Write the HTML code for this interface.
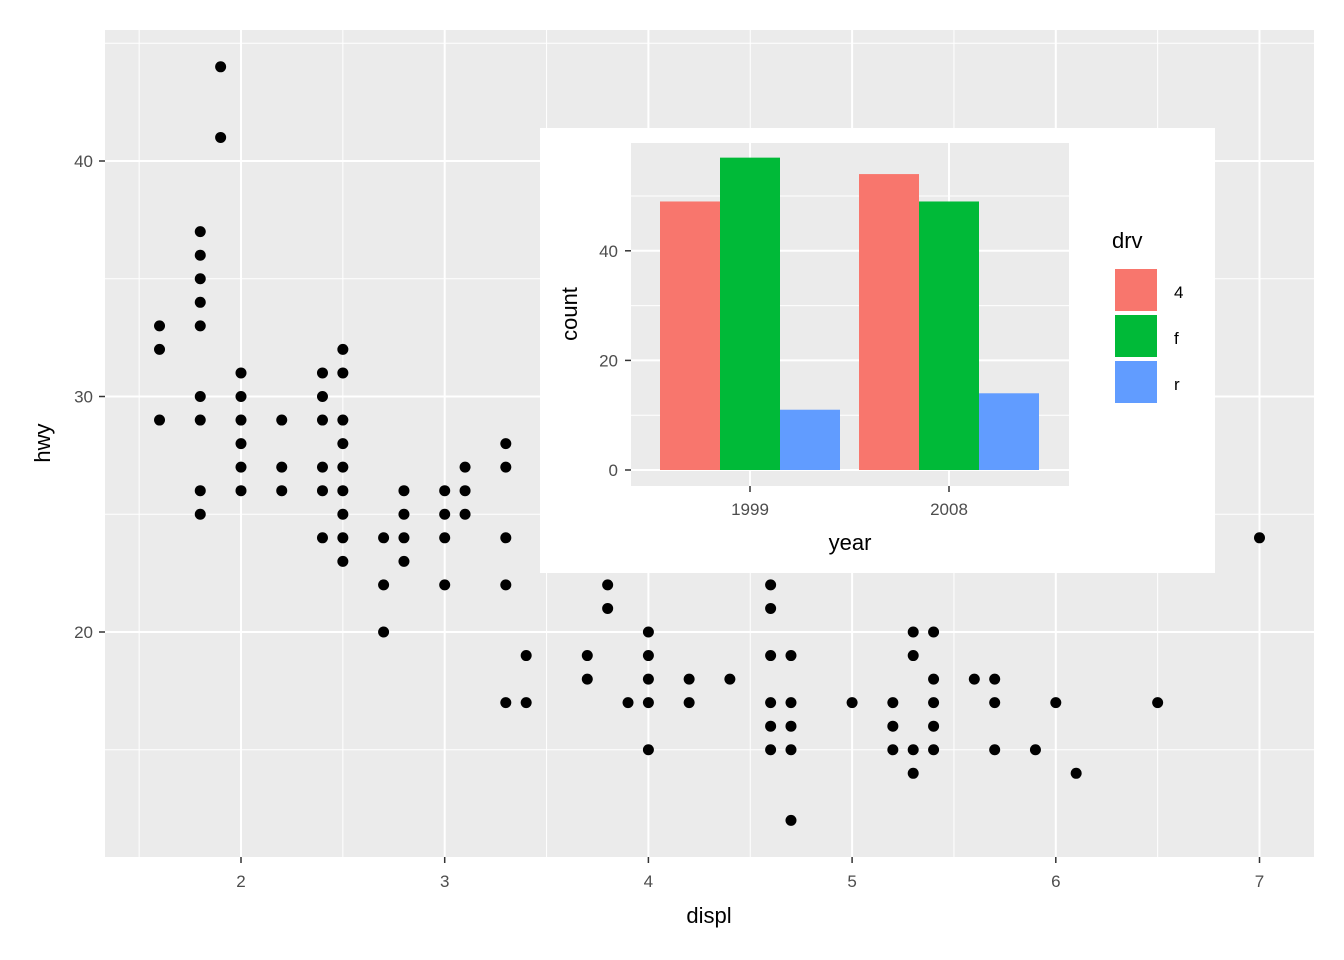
<!DOCTYPE html>
<html><head><meta charset="utf-8"><style>
body{margin:0;background:#fff;}
svg{display:block;font-family:"Liberation Sans",Arial,sans-serif;}
</style></head><body>
<svg id="chart" width="1344" height="960"></svg>
<script>
const displVals=[1.6,1.6,1.6,1.8,1.8,1.8,1.8,1.8,1.8,1.8,1.8,1.8,1.9,1.9,2.0,2.0,2.0,2.0,2.0,2.0,2.2,2.2,2.2,2.4,2.4,2.4,2.4,2.4,2.4,2.5,2.5,2.5,2.5,2.5,2.5,2.5,2.5,2.5,2.7,2.7,2.7,2.8,2.8,2.8,2.8,3.0,3.0,3.0,3.0,3.1,3.1,3.1,3.3,3.3,3.3,3.3,3.3,3.4,3.4,3.5,3.5,3.5,3.5,3.7,3.7,3.8,3.8,3.9,4.0,4.0,4.0,4.0,4.0,4.2,4.2,4.4,4.6,4.6,4.6,4.6,4.6,4.6,4.7,4.7,4.7,4.7,4.7,5.0,5.2,5.2,5.2,5.3,5.3,5.3,5.3,5.4,5.4,5.4,5.4,5.4,5.6,5.7,5.7,5.7,5.9,6.0,6.1,6.5,7.0];
const hwyVals=[33,32,29,37,36,35,34,33,30,29,26,25,44,41,31,30,29,28,27,26,29,27,26,31,30,29,27,26,24,32,31,29,28,27,26,25,24,23,24,22,20,26,25,24,23,26,25,24,22,27,26,25,28,27,24,22,17,19,17,29,27,26,25,19,18,22,21,17,20,19,18,17,15,18,17,18,22,21,19,17,16,15,19,17,16,15,12,17,17,16,15,20,19,15,14,20,18,17,16,15,18,18,17,15,15,17,14,17,24];
const xTicks=[2,3,4,5,6,7];
const yTicks=[20,30,40];
const years=["1999","2008"];
const drvs=["4","f","r"];
const counts1999=[49,57,11];
const counts2008=[54,49,14];
const colors=["#F8766D","#00BA38","#619CFF"];

const svg=document.getElementById('chart');
const NS="http://www.w3.org/2000/svg";
function el(tag,attrs,parent,text){const e=document.createElementNS(NS,tag);for(const k in attrs)e.setAttribute(k,attrs[k]);if(text!==undefined)e.textContent=text;(parent||svg).appendChild(e);return e;}
const X=v=>241+(v-2)*203.7;
const Y=v=>396.5-(v-30)*23.55;

// main panel
const panel=el('rect',{x:105,y:30,width:1209,height:827,fill:'#EBEBEB'});

const grid=el('g',{});

for(let v=1.5;v<=6.6;v+=1)el('line',{x1:X(v),x2:X(v),y1:30,y2:857,stroke:'#fff','stroke-width':1},grid);
for(const v of [15,25,35,45])el('line',{x1:105,x2:1314,y1:Y(v),y2:Y(v),stroke:'#fff','stroke-width':1},grid);
for(const v of xTicks)el('line',{x1:X(v),x2:X(v),y1:30,y2:857,stroke:'#fff','stroke-width':2},grid);
for(const v of yTicks)el('line',{x1:105,x2:1314,y1:Y(v),y2:Y(v),stroke:'#fff','stroke-width':2},grid);
const xax=el('g',{});
for(const v of xTicks){el('line',{x1:X(v),x2:X(v),y1:857,y2:863,stroke:'#333','stroke-width':1.5},xax);el('text',{x:X(v),y:887,'text-anchor':'middle','font-size':17,fill:'#4D4D4D'},xax,v);}
const yax=el('g',{});
for(const v of yTicks){el('line',{x1:99,x2:105,y1:Y(v),y2:Y(v),stroke:'#333','stroke-width':1.5},yax);el('text',{x:93,y:Y(v)+6,'text-anchor':'end','font-size':17,fill:'#4D4D4D'},yax,v);}
const xt=el('text',{x:709,y:923,'text-anchor':'middle','font-size':22,fill:'#000'},svg,'displ');

const yt=el('text',{x:0,y:0,transform:'translate(50,443) rotate(-90)','text-anchor':'middle','font-size':22,fill:'#000'},svg,'hwy');

const pts=el('g',{});
displVals.forEach((d,i)=>{const c=el('circle',{cx:X(d),cy:Y(hwyVals[i]),r:5.5,fill:'#000'},pts);

});

// inset
const inset=el('g',{});
el('rect',{x:540,y:128,width:675,height:445,fill:'#fff'},inset);
el('rect',{x:631,y:143,width:438,height:343,fill:'#EBEBEB'},inset);
const IY=v=>470-v*5.48;
for(const v of [10,30,50])el('line',{x1:631,x2:1069,y1:IY(v),y2:IY(v),stroke:'#fff','stroke-width':1},inset);
for(const v of [0,20,40]){el('line',{x1:631,x2:1069,y1:IY(v),y2:IY(v),stroke:'#fff','stroke-width':2},inset);
el('line',{x1:625,x2:631,y1:IY(v),y2:IY(v),stroke:'#333','stroke-width':1.5},inset);
el('text',{x:618,y:IY(v)+6,'text-anchor':'end','font-size':17,fill:'#4D4D4D'},inset,v);}
const centers=[750,949];
centers.forEach(c=>el('line',{x1:c,x2:c,y1:143,y2:486,stroke:'#fff','stroke-width':2},inset));
[counts1999,counts2008].forEach((arr,g)=>{
 el('line',{x1:centers[g],x2:centers[g],y1:486,y2:492,stroke:'#333','stroke-width':1.5},inset);
 el('text',{x:centers[g],y:515,'text-anchor':'middle','font-size':17,fill:'#4D4D4D'},inset,years[g]);
 arr.forEach((v,i)=>{const b=el('rect',{x:centers[g]-90+i*60,y:IY(v),width:60,height:v*5.48,fill:colors[i]},inset);
 
 });
});
el('text',{x:850,y:550,'text-anchor':'middle','font-size':22},inset,'year');
el('text',{x:0,y:0,transform:'translate(577,314) rotate(-90)','text-anchor':'middle','font-size':22},inset,'count');
const leg=el('g',{},inset);
el('text',{x:1112,y:248,'font-size':22},leg,'drv');
drvs.forEach((d,i)=>{el('rect',{x:1114,y:268+i*46,width:44,height:44,fill:colors[i],stroke:'#fff','stroke-width':2},leg);
el('text',{x:1174,y:298+i*46,'font-size':17},leg,d);});
</script>
</body></html>
